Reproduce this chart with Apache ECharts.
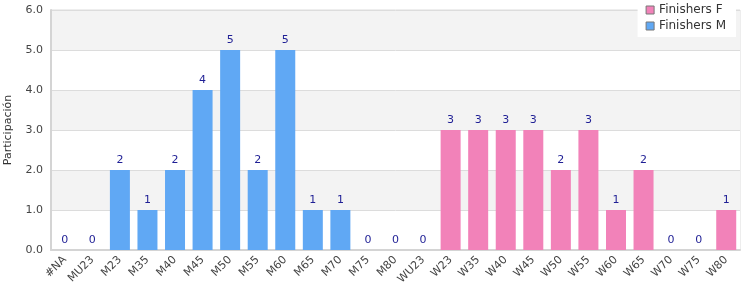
<!DOCTYPE html>
<html><head><meta charset="utf-8">
<script src="https://cdn.jsdelivr.net/npm/echarts@6/dist/echarts.min.js"></script>
<style>html,body{margin:0;padding:0;background:#fff}#c{width:750px;height:300px}</style>
</head><body><div id="c"></div>
<script>
const categories = ['#NA','MU23','M23','M35','M40','M45','M50','M55','M60','M65','M70','M75','M80','WU23','W23','W35','W40','W45','W50','W55','W60','W65','W70','W75','W80'];
const finishersM = [0,0,2,1,2,4,5,2,5,1,1,0,0,'-','-','-','-','-','-','-','-','-','-','-','-'];
const finishersF = ['-','-','-','-','-','-','-','-','-','-','-','-','-',0,3,3,3,3,2,3,1,2,0,0,1];
const yTicks = [0,1,2,3,4,5,6];

const font = 'DejaVu Sans';
const chart = echarts.init(document.getElementById('c'));
const lbl = {show:true, position:'top', distance:4, color:'#1f1f95', fontFamily:font, fontSize:11};
chart.setOption({
  animation:false,
  textStyle:{fontFamily:font},
  grid:{left:51, right:10, top:10, bottom:50, containLabel:false, outerBoundsMode:'none',
        show:true, borderColor:'#dcdcdc', borderWidth:1, backgroundColor:'transparent'},
  legend:{
    data:['Finishers F','Finishers M'], orient:'vertical', right:14, top:0,
    backgroundColor:'#fff', padding:[4,10,5,8], itemGap:4,
    icon:'rect', itemWidth:8, itemHeight:8,
    itemStyle:{borderColor:'#777', borderWidth:1},
    textStyle:{fontFamily:font, fontSize:12, color:'#333'}
  },
  xAxis:{
    type:'category', data:categories,
    axisLine:{lineStyle:{color:'#d4d4d4', width:2}},
    axisTick:{show:false},
    axisLabel:{rotate:45, color:'#444', fontSize:11, fontFamily:font, interval:0, margin:8}
  },
  yAxis:{
    type:'value', min:yTicks[0], max:yTicks[yTicks.length-1], interval:1,
    name:'Participación', nameLocation:'middle', nameGap:37,
    nameTextStyle:{color:'#333', fontSize:11, fontFamily:font},
    axisLine:{show:true, lineStyle:{color:'#d4d4d4', width:2}},
    axisTick:{show:false},
    axisLabel:{color:'#444', fontSize:11, fontFamily:font, formatter:v=>v.toFixed(1), margin:8},
    splitLine:{lineStyle:{color:'#dcdcdc'}},
    splitArea:{show:true, areaStyle:{color:['#ffffff','#f3f3f3']}}
  },
  series:[
    {name:'Finishers F', type:'bar', data:finishersF, barWidth:20, barGap:'-100%',
     itemStyle:{color:'#f282b9'}, label:lbl},
    {name:'Finishers M', type:'bar', data:finishersM, barWidth:20, barGap:'-100%',
     itemStyle:{color:'#60a8f4'}, label:lbl}
  ]
});
</script></body></html>
